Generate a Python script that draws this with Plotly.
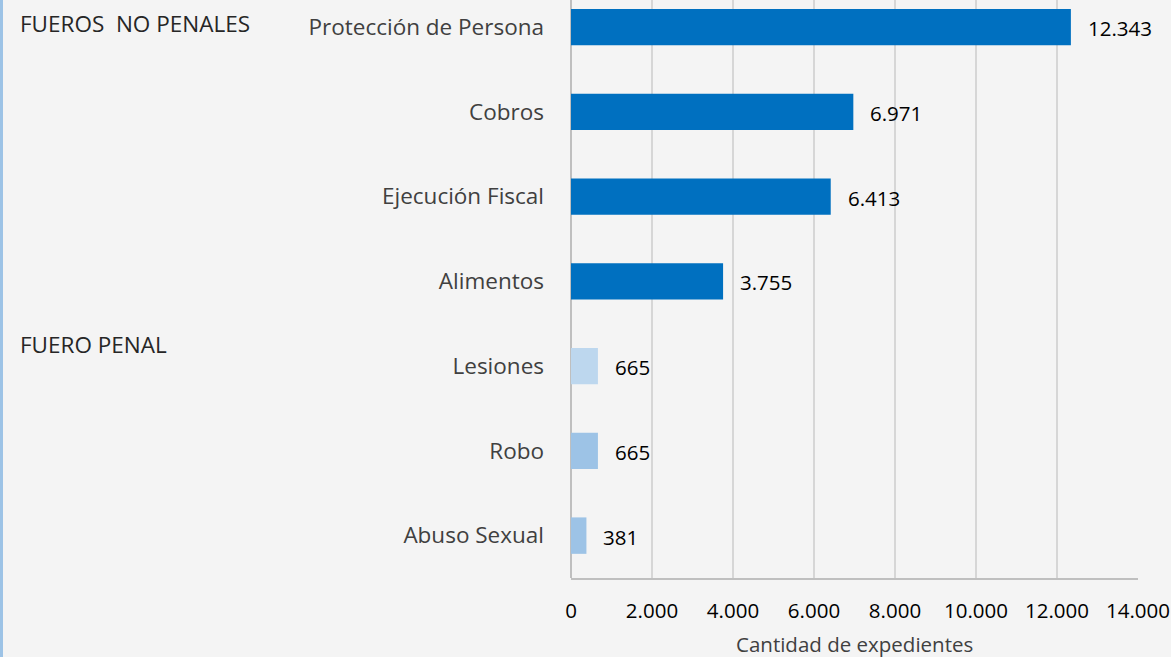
import plotly.graph_objects as go

categorias = ["Protección de Persona", "Cobros", "Ejecución Fiscal", "Alimentos",
              "Lesiones", "Robo", "Abuso Sexual"]
valores = [12343, 6971, 6413, 3755, 665, 665, 381]
etiquetas = ["12.343", "6.971", "6.413", "3.755", "665", "665", "381"]
colores = ["#0070C0", "#0070C0", "#0070C0", "#0070C0", "#BDD7EE", "#9DC3E6", "#9DC3E6"]
ticks_x = [0, 2000, 4000, 6000, 8000, 10000, 12000, 14000]
ticks_x_txt = ["0", "2.000", "4.000", "6.000", "8.000", "10.000", "12.000", "14.000"]
grupos = ["FUEROS  NO PENALES", "FUERO PENAL"]

FONT = "Open Sans"

W, H = 1171, 657
L, R, B = 571, 33, 79
pw = W - L - R
ph = H - B


def px_x(px):
    return (px - L) / pw


def px_y(py):
    return (H - B - py) / ph


fig = go.Figure()
fig.add_trace(go.Bar(
    y=categorias, x=valores, orientation="h",
    marker=dict(color=colores, line=dict(width=0)),
    width=0.43, hoverinfo="x+y",
))

for c, v, t in zip(categorias, valores, etiquetas):
    fig.add_annotation(x=v, y=c, xref="x", yref="y", text=t, showarrow=False,
                       xanchor="left", xshift=15, yshift=-1,
                       font=dict(family=FONT, size=20.5, color="#000000"))

for txt, py in zip(grupos, [24, 344]):
    fig.add_annotation(text=txt, xref="paper", yref="paper",
                       x=px_x(18), y=px_y(py),
                       xanchor="left", yanchor="middle", showarrow=False,
                       font=dict(family=FONT, size=22.5, color="#262626"))

fig.add_annotation(text="Cantidad de expedientes", xref="paper", yref="paper",
                   x=px_x(854), y=px_y(644), showarrow=False,
                   xanchor="center", yanchor="middle",
                   font=dict(family=FONT, size=20.5, color="#404040"))

fig.add_shape(type="rect", xref="paper", yref="paper",
              x0=px_x(0), x1=px_x(3), y0=px_y(H + 5), y1=px_y(-5),
              fillcolor="#9DC3E6", line=dict(width=0), layer="below")

fig.update_layout(
    width=W, height=H,
    margin=dict(l=L, r=R, t=0, b=B, pad=0),
    paper_bgcolor="#F4F4F4", plot_bgcolor="rgba(0,0,0,0)",
    separators=",.",
    showlegend=False,
    font=dict(family=FONT, color="#404040"),
    xaxis=dict(range=[0, 14000], tickvals=ticks_x, ticktext=ticks_x_txt,
               showgrid=True, gridcolor="#D6D6D6", gridwidth=2,
               showline=True, linecolor="#BFBFBF", linewidth=1.5,
               zeroline=True, zerolinecolor="#BFBFBF", zerolinewidth=2,
               ticks="", ticklabelstandoff=14,
               tickfont=dict(family=FONT, size=20.5, color="#000000"), fixedrange=True),
    yaxis=dict(categoryorder="array", categoryarray=categorias,
               range=[6.5, -0.32], showgrid=False, showline=False, zeroline=False,
               ticks="", ticklabelstandoff=26,
               tickfont=dict(family=FONT, size=22.5, color="#404040"), fixedrange=True),
)

fig.write_html("out.html", config={"displayModeBar": False},
               post_script="document.body.style.margin='0px';")
